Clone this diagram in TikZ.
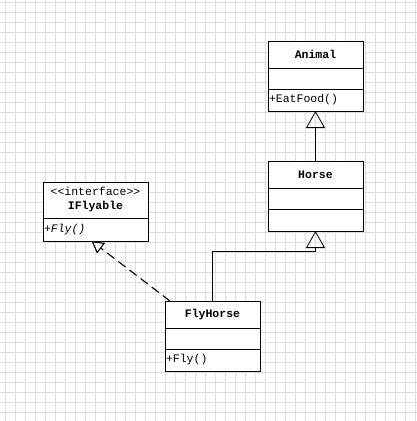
\documentclass[tikz,border=0pt]{standalone}
\usepackage{fontspec}
\setmonofont{Liberation Mono}
\usetikzlibrary{calc, arrows.meta, positioning}

\begin{document}
\begin{tikzpicture}[
    x=1pt, y=1pt,
    node distance=0pt,
    gridline/.style={draw=black!13, line width=0.6pt, step=10pt},
    classname/.style={
        rectangle, draw=black, fill=white, line width=0.8pt, outer sep=0pt,
        minimum width=95pt, minimum height=27pt, inner sep=1pt, anchor=north,
        font=\ttfamily\bfseries\fontsize{11.5}{13}\selectfont
    },
    classpart/.style={
        rectangle, draw=black, fill=white, line width=0.8pt, outer sep=0pt,
        text width=93pt, minimum height=21pt, inner sep=1pt, align=left,
        font=\ttfamily\fontsize{11.5}{13}\selectfont
    },
    gen/.style={-{Triangle[open, length=17pt, width=19pt]}, line width=0.8pt},
    real/.style={-{Triangle[open, length=12pt, width=13pt]}, line width=1.1pt,
        dash pattern=on 9pt off 5pt}
]
\useasboundingbox (0,0) rectangle (417,-421);

% Background grid
\draw[gridline, xshift=5pt, yshift=-2pt] (-5,2) grid (412,-419);

% Classes
\node[classname] (animal) at (315.5,-41) {Animal};
\node[classpart, below=of animal] (animal-attr) {};
\node[classpart, below=of animal-attr, minimum height=22pt] (animal-ops) {+EatFood()};

\node[classname] (horse) at (315.5,-161) {Horse};
\node[classpart, below=of horse] (horse-attr) {};
\node[classpart, below=of horse-attr, minimum height=22pt] (horse-ops) {};

\node[classname] (flyhorse) at (212.5,-301) {FlyHorse};
\node[classpart, below=of flyhorse] (flyhorse-attr) {};
\node[classpart, below=of flyhorse-attr, minimum height=22pt] (flyhorse-ops) {+Fly()};

\node[classname, minimum width=105pt, minimum height=36pt, align=center] (iflyable) at (95.5,-182)
    {{\mdseries <{}<interface>{}>}\\[1pt]IFlyable};
\node[classpart, below=of iflyable, text width=103pt, minimum height=23pt] (iflyable-ops) {\itshape +Fly()};

% Helper points
\coordinate (elbow) at ($(horse-ops.south)+(0,-20)$);
\coordinate (real-start) at ($(flyhorse.north west)+(5,0)$);
\coordinate (real-end) at ($(iflyable-ops.south)+(-4,0)$);

% Arrows
\draw[gen] (horse) -- (animal-ops);
\draw[gen] (flyhorse.north) |- (elbow) -- (horse-ops.south);
\draw[real] (real-start) -- (real-end);

\end{tikzpicture}
\end{document}
